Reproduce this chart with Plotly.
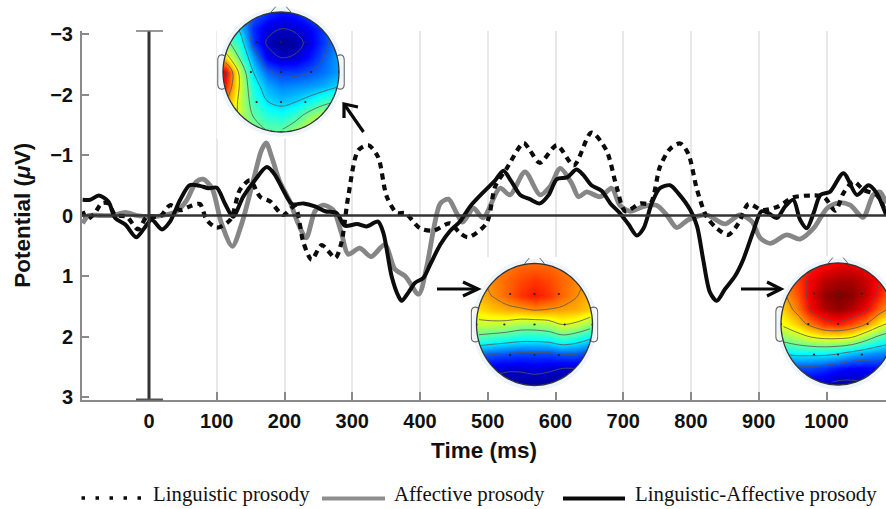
import numpy as np
import plotly.graph_objects as go

W, H = 886, 509

# ---------- series ----------
ling_t = [-98,-91,-80,-70,-60,-50,-33,-16,-3,16,31,46,60,75,85,100,120,134,149,164,179,198,215,228,240,255,275,284,294,309,324,338,351,366,378,400,420,444,459,471,498,511,528,553,562,577,602,627,653,675,690,703,725,740,754,769,784,796,809,823,838,855,870,885,905,927,951,976,996,1013,1025,1040,1055,1074,1088]
ling_v = [-.07,.06,-.04,-.20,-.20,-.01,.02,.23,.02,.02,-.17,-.09,-.15,-.19,.07,.20,.07,-.42,-.58,-.31,-.23,-.01,-.15,.45,.73,.49,.70,.45,-.31,-1.08,-1.16,-.97,-.31,-.04,-.04,.21,.25,.13,.29,.36,.13,-.48,-.78,-1.20,-1.08,-.87,-1.16,-.83,-1.37,-1.08,-.48,-.07,-.20,-.20,-.80,-1.10,-1.19,-1.02,-.42,.02,.21,.32,.13,-.19,-.09,-.14,-.30,-.33,-.31,-.08,-.37,-.56,-.42,-.34,-.04]

aff_t = [-98,-89,-72,-53,-35,-18,-1,20,41,56,70,80,93,107,123,137,154,166,173,181,193,208,220,232,245,257,272,284,294,311,328,348,363,378,398,410,420,430,442,454,463,479,493,518,533,555,577,592,607,624,634,646,666,683,695,710,730,749,764,779,796,823,850,872,890,902,917,941,961,981,1001,1018,1035,1054,1069,1079,1088]
aff_v = [.13,0,0,0,-.05,0,.02,0,-.07,-.26,-.56,-.60,-.45,.13,.51,.13,-.58,-1.08,-1.20,-.97,-.56,-.23,.13,.37,-.07,-.17,-.09,.29,.64,.54,.68,.48,.89,1.0,1.30,.84,.23,-.20,-.27,-.04,.11,-.12,.04,-.45,-.34,-.72,-.34,-.48,-.78,-.53,-.31,-.39,-.31,-.45,-.17,-.07,-.15,-.17,-.01,.20,.07,-.01,.14,-.01,.10,.37,.46,.32,.39,.21,-.12,-.21,-.17,.03,-.34,-.39,-.20]

both_t = [-98,-87,-74,-60,-50,-35,-19,-7,4,19,31,46,60,75,88,100,112,124,139,156,174,186,198,211,228,245,260,277,289,307,321,338,346,358,368,373,383,393,405,415,430,444,459,474,494,511,523,535,548,562,577,590,602,617,631,641,653,668,681,695,708,720,730,742,754,769,781,799,809,818,828,838,850,865,877,892,904,914,927,939,951,961,971,981,991,1005,1025,1045,1062,1074,1088]
both_v = [-.26,-.26,-.33,-.23,.04,.15,.36,.21,.07,.23,.10,-.26,-.50,-.49,-.45,-.46,-.20,.02,-.31,-.58,-.80,-.67,-.42,-.19,-.20,-.15,-.07,-.04,.17,.14,.18,.10,.29,1.0,1.33,1.41,1.27,1.11,1.03,.81,.48,.26,.10,-.15,-.39,-.58,-.74,-.56,-.34,-.27,-.20,-.34,-.60,-.63,-.76,-.67,-.50,-.41,-.20,-.04,.15,.33,.21,-.20,-.45,-.50,-.37,-.09,.18,.73,1.27,1.41,1.22,1.0,.73,.26,-.07,-.04,.04,-.15,-.26,.07,.21,-.04,-.34,-.39,-.70,-.34,-.50,-.37,-.01]

x_ticks = [0,100,200,300,400,500,600,700,800,900,1000]
y_ticks = [-3,-2,-1,0,1,2,3]
y_tick_labels = ["−3","−2","−1","0","1","2","3"]

# ---------- scalp maps: field values ----------
map_axis = [-.96,-.72,-.48,-.24,0,.24,.48,.72,.96]   # same for both directions; rows run top to bottom
map_early = [
 [.30,.26,.20,.15,.12,.13,.18,.22,.28],
 [.42,.32,.15,.08,.06,.07,.10,.16,.24],
 [.50,.40,.17,.05,.02,.03,.08,.16,.24],
 [.66,.46,.26,.10,.06,.07,.12,.19,.26],
 [.90,.58,.33,.21,.17,.17,.19,.22,.26],
 [.85,.60,.38,.28,.24,.25,.26,.28,.32],
 [.75,.58,.42,.33,.30,.32,.36,.42,.46],
 [.68,.58,.46,.40,.38,.42,.50,.56,.56],
 [.62,.56,.50,.46,.46,.52,.58,.62,.62],
]
map_mid = [
 [.72,.74,.76,.78,.78,.78,.76,.74,.72],
 [.72,.75,.78,.81,.83,.81,.78,.75,.72],
 [.70,.74,.78,.83,.86,.83,.78,.74,.70],
 [.66,.69,.71,.72,.74,.73,.72,.71,.68],
 [.57,.57,.56,.53,.53,.55,.60,.58,.52],
 [.42,.40,.38,.36,.36,.37,.41,.38,.33],
 [.22,.20,.19,.18,.18,.18,.20,.20,.17],
 [.09,.08,.07,.07,.08,.07,.06,.06,.06],
 [.04,.04,.03,.03,.03,.03,.03,.03,.03],
]
map_late = [
 [.78,.82,.85,.88,.90,.90,.89,.86,.82],
 [.76,.82,.89,.94,.96,.96,.93,.88,.82],
 [.72,.80,.90,.98,1.0,.99,.94,.85,.76],
 [.68,.76,.88,.95,.98,.95,.89,.78,.70],
 [.62,.68,.76,.83,.85,.81,.74,.64,.56],
 [.50,.54,.58,.60,.60,.58,.50,.42,.38],
 [.34,.36,.36,.36,.34,.30,.27,.25,.23],
 [.18,.18,.18,.16,.13,.11,.11,.12,.13],
 [.08,.08,.08,.07,.05,.05,.06,.07,.07],
]
electrode_x = [-.42,0,.42,-.52,0,.52,-.42,0,.42,-1,1,-.45,.45,0,-.45,.45]
electrode_y = [.5,.5,.5,0,0,0,-.5,-.5,-.5,0,0,.93,.93,-1,-.93,-.93]

JET = [[0,"#00007f"],[.11,"#0000ff"],[.36,"#00ffff"],[.5,"#80ff80"],[.63,"#ffff00"],[.88,"#ff0000"],[1,"#7f0000"]]

PX = lambda v: v / W
PY = lambda v: 1 - v / H

fig = go.Figure()

# ---------- main axes ----------
TOP, BOTTOM, LEFT = 31, 399.5, 82
x_scale, x0 = .6775, 149
y_scale, y0 = 60.5, 215.5
FONT = dict(family="Liberation Sans", color="#111111", weight=700)
AXC = "#8a8a8a"
fig.update_layout(
    width=W, height=H, margin=dict(l=0, r=0, t=0, b=0, autoexpand=False),
    paper_bgcolor="white", plot_bgcolor="white", showlegend=False,
    xaxis=dict(domain=[PX(LEFT), 1], range=[(LEFT-x0)/x_scale, (W-x0)/x_scale],
               tickmode="array", tickvals=x_ticks, ticktext=[str(t) for t in x_ticks],
               ticks="inside", ticklen=8, tickcolor=AXC, tickwidth=1.5,
               tickfont=dict(size=20, **FONT), ticklabelstandoff=2,
               showgrid=True, gridcolor="#e8e8e8", gridwidth=1.5, zeroline=False,
               showline=True, linecolor=AXC, linewidth=2, anchor="y",
               title=dict(text="Time (ms)", font=dict(size=22.5, **FONT), standoff=12)),
    yaxis=dict(domain=[PY(BOTTOM), PY(TOP)], range=[(BOTTOM-y0)/y_scale, (TOP-y0)/y_scale],
               tickmode="array", tickvals=y_ticks, ticktext=y_tick_labels,
               ticks="inside", ticklen=7, tickcolor=AXC, tickwidth=1.5,
               tickfont=dict(size=20, **FONT), ticklabelstandoff=3,
               showgrid=False, zeroline=False,
               showline=True, linecolor=AXC, linewidth=2, anchor="x",
               title=dict(text="Potential (<i>μ</i>V)", font=dict(size=22.5, **FONT), standoff=13)),
)

fig.add_trace(go.Scatter(x=aff_t, y=aff_v, name="Affective prosody", mode="lines",
                         line=dict(color="#868686", width=4.8, shape="spline", smoothing=.8)))
fig.add_trace(go.Scatter(x=ling_t, y=ling_v, name="Linguistic prosody", mode="lines",
                         line=dict(color="#0c0c0c", width=4.2, dash="6px,5px", shape="spline", smoothing=.8)))
fig.add_trace(go.Scatter(x=both_t, y=both_v, name="Linguistic-Affective prosody", mode="lines",
                         line=dict(color="#0c0c0c", width=4, shape="spline", smoothing=.8)))

shapes = []
annotations = []

# zero lines and caps
shapes += [
    dict(type="line", xref="x", yref="y", x0=(LEFT-x0)/x_scale, x1=(W-x0)/x_scale, y0=0, y1=0,
         line=dict(color="#333333", width=2.6)),
    dict(type="line", xref="x", yref="paper", x0=0, x1=0, y0=PY(BOTTOM), y1=PY(TOP),
         line=dict(color="#333333", width=3)),
    dict(type="line", xref="paper", yref="paper", x0=PX(136), x1=PX(163), y0=PY(TOP), y1=PY(TOP),
         line=dict(color="#777777", width=1.5)),
    dict(type="line", xref="paper", yref="paper", x0=PX(136), x1=PX(163), y0=PY(BOTTOM), y1=PY(BOTTOM),
         line=dict(color="#555555", width=2)),
]

# ---------- scalp maps ----------
theta = np.linspace(0, 2*np.pi, 121)

def ring(r):
    return " ".join(("M" if i == 0 else "L") + f"{r*np.cos(t):.4f},{r*np.sin(t):.4f}" for i, t in enumerate(theta)) + " Z"

def ear(side):
    a, b = (.97, 1.09) if side > 0 else (-.97, -1.09)
    return (f"M{a},.27 C{(a+b)/2},.30 {b},.29 {b},.20 L{b},-.20 C{b},-.29 {(a+b)/2},-.30 {a},-.27")

maps = [
    dict(z=map_early, cx=281, cy=72, rx=58, ry=60, ears=(-1, 1)),
    dict(z=map_mid, cx=534.5, cy=324.5, rx=58, ry=61, ears=(-1, 1)),
    dict(z=map_late, cx=838, cy=324, rx=57, ry=61, ears=(-1,)),
]
EXT = 1.105
for i, m in enumerate(maps, start=2):
    xa, ya = f"xaxis{i}", f"yaxis{i}"
    xr, yr = f"x{i}", f"y{i}"
    left_px = m["cx"] - EXT*m["rx"]
    right_px = min(W, m["cx"] + EXT*m["rx"])
    top_px = m["cy"] - EXT*m["ry"]
    bot_px = m["cy"] + EXT*m["ry"]
    x_hi = (right_px - m["cx"]) / m["rx"]
    fig.update_layout({
        xa: dict(domain=[PX(left_px), PX(right_px)], range=[-EXT, x_hi], visible=False, anchor=yr, fixedrange=True),
        ya: dict(domain=[PY(bot_px), PY(top_px)], range=[-EXT, EXT], visible=False, anchor=xr, fixedrange=True),
    })
    z_up = m["z"][::-1]
    fig.add_trace(go.Heatmap(x=map_axis, y=map_axis, z=z_up, xaxis=xr, yaxis=yr, colorscale=JET,
                             zmin=0, zmax=1, zsmooth="best", showscale=False, hoverinfo="skip"))
    fig.add_trace(go.Contour(x=map_axis, y=map_axis, z=z_up, xaxis=xr, yaxis=yr, showscale=False,
                             contours=dict(coloring="none", start=.06, end=.87, size=.135),
                             line=dict(color="#555555", width=.8, smoothing=1), hoverinfo="skip"))
    fig.add_trace(go.Scatter(x=electrode_x, y=electrode_y, xaxis=xr, yaxis=yr, mode="markers",
                             marker=dict(color="#222222", size=2.2), hoverinfo="skip"))
    # white page outside the head, faint halo, outline, ears, nose
    s = 1.3
    shapes.append(dict(type="path", xref=xr, yref=yr, fillcolor="white", line=dict(width=0),
                       path=f"M{-s},{-s} L{-s},{s} L{s},{s} L{s},{-s} Z " + ring(1.0)))
    shapes.append(dict(type="path", xref=xr, yref=yr, fillcolor="#edf5fb", line=dict(width=0),
                       path=ring(1.075) + " " + " ".join(
                           ("M" if j == 0 else "L") + f"{np.cos(-t):.4f},{np.sin(-t):.4f}" for j, t in enumerate(theta)) + " Z"))
    shapes.append(dict(type="path", xref=xr, yref=yr, line=dict(color="#333333", width=1.3), path=ring(1.0)))
    for side in m["ears"]:
        shapes.append(dict(type="path", xref=xr, yref=yr, line=dict(color="#666666", width=1.1), path=ear(side)))
    for sgn in (-1, 1):
        shapes.append(dict(type="line", xref=xr, yref=yr, x0=sgn*.17, y0=1.0, x1=sgn*.09, y1=1.09,
                           line=dict(color="#666666", width=1)))

# ---------- arrows ----------
def polyline(points, **kw):
    path = " ".join(("M" if j == 0 else "L") + f"{PX(a):.5f},{PY(b):.5f}" for j, (a, b) in enumerate(points))
    return dict(type="path", xref="paper", yref="paper", path=path, line=dict(color="#0a0a0a", **kw))

arrows = [
    [[(363.5, 132), (344, 104)], [(344, 118), (344, 104), (358, 107)]],
    [[(437, 289), (478, 289)], [(463, 282), (478, 289), (463, 296)]],
    [[(741, 289), (781, 289)], [(767, 282), (781, 289), (767, 296)]],
]
for pts in arrows:
    for p in pts:
        shapes.append(polyline(p, width=3.2))

# ---------- legend row ----------
LEG_FONT = dict(family="Liberation Serif", size=20.8, color="#111111")
shapes.append(dict(type="line", xref="paper", yref="paper", x0=PX(81.5), x1=PX(142), y0=PY(498), y1=PY(498),
                   line=dict(color="#0a0a0a", width=3.5, dash="3.5px,10.5px")))
shapes.append(dict(type="line", xref="paper", yref="paper", x0=PX(322), x1=PX(385), y0=PY(498.5), y1=PY(498.5),
                   line=dict(color="#8e8e8e", width=4)))
shapes.append(dict(type="line", xref="paper", yref="paper", x0=PX(563), x1=PX(625), y0=PY(498.5), y1=PY(498.5),
                   line=dict(color="#0a0a0a", width=4)))
for text, px in [("Linguistic prosody", 150.5), ("Affective prosody", 392), ("Linguistic-Affective prosody", 633)]:
    annotations.append(dict(text=text, xref="paper", yref="paper", x=PX(px), y=PY(494), xanchor="left",
                            yanchor="middle", showarrow=False, font=LEG_FONT))

fig.update_layout(shapes=shapes, annotations=annotations)
fig.write_html("out.html", post_script="document.body.style.margin='0';", config=dict(displayModeBar=False))
